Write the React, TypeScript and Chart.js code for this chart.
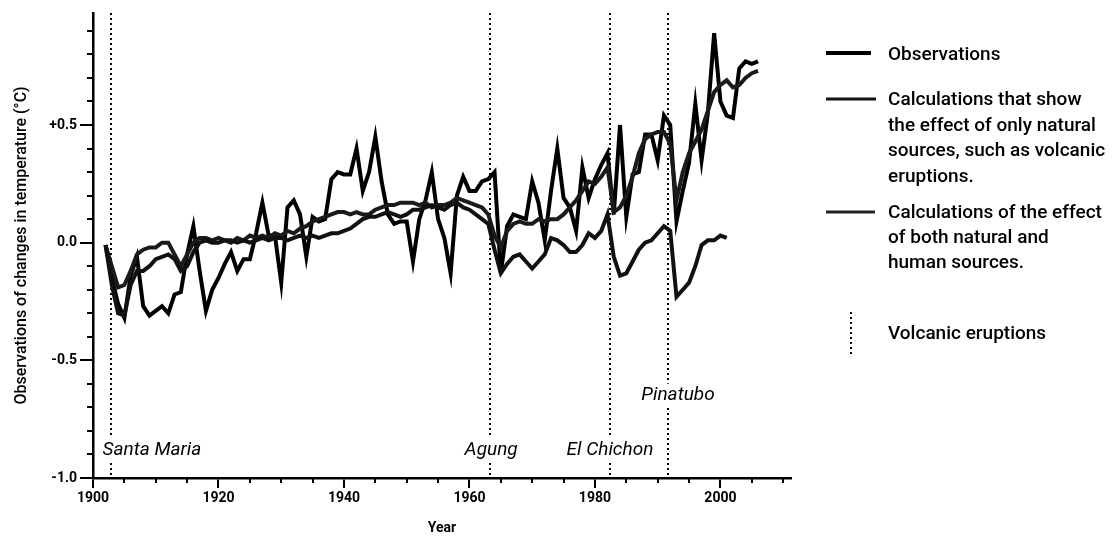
import React, { useEffect, useRef } from 'react';
import { Chart, registerables } from 'chart.js';

Chart.register(...registerables);

// ---- Data ----
const OBS_START_YEAR = 1902;
const observations = [
  -0.01, -0.15, -0.26, -0.32, -0.14, -0.06, -0.27, -0.31, -0.29, -0.27, // 1902-1911
  -0.30, -0.22, -0.21, -0.05, 0.07, -0.12, -0.29, -0.20, -0.15, -0.09, // 1912-1921
  -0.04, -0.12, -0.07, -0.07, 0.04, 0.17, 0.03, 0.03, -0.17, 0.15, // 1922-1931
  0.18, 0.12, -0.06, 0.11, 0.09, 0.10, 0.27, 0.30, 0.29, 0.29, // 1932-1941
  0.40, 0.22, 0.30, 0.45, 0.26, 0.12, 0.08, 0.09, 0.09, -0.08, // 1942-1951
  0.10, 0.18, 0.30, 0.10, 0.02, -0.13, 0.20, 0.28, 0.22, 0.22, // 1952-1961
  0.26, 0.27, 0.30, -0.13, 0.07, 0.12, 0.11, 0.10, 0.26, 0.17, // 1962-1971
  0.01, 0.22, 0.40, 0.19, 0.15, 0.05, 0.32, 0.19, 0.27, 0.33, // 1972-1981
  0.38, 0.12, 0.50, 0.11, 0.29, 0.30, 0.46, 0.46, 0.35, 0.54, // 1982-1991
  0.50, 0.09, 0.22, 0.34, 0.59, 0.35, 0.55, 0.89, 0.60, 0.54, // 1992-2001
  0.53, 0.74, 0.77, 0.76, 0.77, // 2002-2006
];

const NATURAL_START_YEAR = 1902;
const naturalOnly = [
  -0.01, -0.18, -0.30, -0.31, -0.18, -0.12, -0.12, -0.10, -0.07, -0.06, // 1902-1911
  -0.05, -0.07, -0.12, -0.10, -0.04, 0.00, 0.01, 0.00, 0.00, 0.01, // 1912-1921
  0.01, 0.00, 0.01, 0.00, 0.01, 0.02, 0.01, 0.02, 0.02, 0.01, // 1922-1931
  0.02, 0.03, 0.02, 0.03, 0.02, 0.03, 0.04, 0.04, 0.05, 0.06, // 1932-1941
  0.08, 0.10, 0.11, 0.11, 0.12, 0.13, 0.12, 0.11, 0.12, 0.14, // 1942-1951
  0.14, 0.15, 0.16, 0.15, 0.14, 0.16, 0.17, 0.15, 0.14, 0.12, // 1952-1961
  0.10, 0.08, -0.03, -0.13, -0.09, -0.06, -0.05, -0.08, -0.11, -0.08, // 1962-1971
  -0.05, 0.02, 0.01, -0.01, -0.04, -0.04, -0.01, 0.04, 0.02, 0.05, // 1972-1981
  0.12, -0.06, -0.14, -0.13, -0.08, -0.03, 0.00, 0.01, 0.04, 0.07, // 1982-1991
  0.05, -0.23, -0.20, -0.17, -0.10, -0.01, 0.01, 0.01, 0.03, 0.02, // 1992-2001
];

const BOTH_START_YEAR = 1902;
const naturalAndHuman = [
  -0.01, -0.10, -0.19, -0.18, -0.12, -0.05, -0.03, -0.02, -0.02, 0.00, // 1902-1911
  0.00, -0.05, -0.10, -0.05, 0.00, 0.02, 0.02, 0.01, 0.02, 0.01, // 1912-1921
  0.00, 0.02, 0.01, 0.03, 0.02, 0.03, 0.02, 0.04, 0.03, 0.05, // 1922-1931
  0.04, 0.06, 0.07, 0.09, 0.10, 0.11, 0.12, 0.13, 0.13, 0.12, // 1932-1941
  0.13, 0.12, 0.12, 0.14, 0.15, 0.16, 0.16, 0.17, 0.17, 0.17, // 1942-1951
  0.16, 0.17, 0.15, 0.16, 0.16, 0.17, 0.19, 0.18, 0.17, 0.16, // 1952-1961
  0.15, 0.12, 0.03, -0.02, 0.05, 0.08, 0.09, 0.08, 0.08, 0.10, // 1962-1971
  0.09, 0.10, 0.10, 0.12, 0.15, 0.18, 0.22, 0.26, 0.25, 0.28, // 1972-1981
  0.32, 0.13, 0.15, 0.20, 0.28, 0.38, 0.44, 0.46, 0.47, 0.47, // 1982-1991
  0.42, 0.18, 0.30, 0.38, 0.43, 0.48, 0.56, 0.64, 0.67, 0.69, // 1992-2001
  0.66, 0.67, 0.70, 0.72, 0.73, // 2002-2006
];

const xTickYears = [1900, 1920, 1940, 1960, 1980, 2000];
const xMinorTickYears = [1905, 1910, 1915, 1925, 1930, 1935, 1945, 1950, 1955, 1965, 1970, 1975, 1985, 1990, 1995, 2005, 2010];
const yTickValues = [-1.0, -0.5, 0.0, 0.5];
const yMinorTickValues = [-0.9, -0.8, -0.7, -0.6, -0.4, -0.3, -0.2, -0.1, 0.1, 0.2, 0.3, 0.4, 0.6, 0.7, 0.8, 0.9];

const eruptionNames = ['Santa Maria', 'Agung', 'El Chichon', 'Pinatubo'];
const eruptionYears = [1902.8, 1963.3, 1982.4, 1991.7];

const legendObs = ['Observations'];
const legendNatural = ['Calculations that show', 'the effect of only natural', 'sources, such as volcanic', 'eruptions.'];
const legendBoth = ['Calculations of the effect', 'of both natural and', 'human sources.'];
const legendVolcanic = ['Volcanic eruptions'];

const yAxisTitle = 'Observations of changes in temperature (°C)';
const xAxisTitle = 'Year';

// ---- helpers ----
const toPoints = (start: number, values: number[]) => values.map((v, i) => ({ x: start + i, y: v }));

const FONT = 'Roboto, "DejaVu Sans", sans-serif';

// label placement (styling, not data)
const eruptionLabelPlacement = [
  { align: 'left', dx: -8, yValue: -0.88 },
  { align: 'center', dx: 1, yValue: -0.88 },
  { align: 'center', dx: 0, yValue: -0.88 },
  { align: 'left', dx: -27, yValue: -0.65 },
];

const overlayPlugin = {
  id: 'overlay',
  beforeDatasetsDraw(chart: any) {
    const { ctx, chartArea, scales } = chart;
    const x = scales.x;
    ctx.save();
    ctx.strokeStyle = '#000';
    ctx.lineWidth = 2;
    ctx.setLineDash([2, 3]);
    eruptionYears.forEach((yr) => {
      const px = Math.round(x.getPixelForValue(yr));
      ctx.beginPath();
      ctx.moveTo(px, chartArea.top);
      ctx.lineTo(px, chartArea.bottom);
      ctx.stroke();
    });
    ctx.restore();
  },
  afterDatasetsDraw(chart: any) {
    const { ctx, scales } = chart;
    const x = scales.x;
    const y = scales.y;
    ctx.save();
    ctx.font = `italic 400 19px ${FONT}`;
    ctx.textBaseline = 'middle';
    eruptionNames.forEach((name, i) => {
      const p = eruptionLabelPlacement[i];
      const px = x.getPixelForValue(eruptionYears[i]) + p.dx;
      const py = y.getPixelForValue(p.yValue);
      const w = ctx.measureText(name).width;
      const left = p.align === 'left' ? px : px - w / 2;
      ctx.fillStyle = '#fff';
      ctx.fillRect(left - 3, py - 12, w + 6, 24);
      ctx.fillStyle = '#000';
      ctx.textAlign = 'left';
      ctx.fillText(name, left, py);
    });
    ctx.restore();
  },
  afterDraw(chart: any) {
    const { ctx, chartArea, scales } = chart;
    const x = scales.x;
    const y = scales.y;
    ctx.save();
    // minor ticks
    ctx.strokeStyle = '#000';
    ctx.lineWidth = 2;
    xMinorTickYears.forEach((yr) => {
      const px = Math.round(x.getPixelForValue(yr));
      ctx.beginPath();
      ctx.moveTo(px, chartArea.bottom);
      ctx.lineTo(px, chartArea.bottom + 5);
      ctx.stroke();
    });
    yMinorTickValues.forEach((v) => {
      const py = Math.round(y.getPixelForValue(v));
      ctx.beginPath();
      ctx.moveTo(chartArea.left, py);
      ctx.lineTo(chartArea.left - 6, py);
      ctx.stroke();
    });

    // legend
    const sx0 = 826;
    const tx = 888;
    ctx.fillStyle = '#000';
    ctx.font = `500 19px ${FONT}`;
    ctx.textAlign = 'left';
    ctx.textBaseline = 'alphabetic';

    ctx.lineWidth = 4;
    ctx.beginPath(); ctx.moveTo(sx0, 53); ctx.lineTo(sx0 + 45, 53); ctx.stroke();
    legendObs.forEach((t, i) => ctx.fillText(t, tx, 60 + i * 26));

    ctx.lineWidth = 3;
    ctx.strokeStyle = '#111';
    ctx.beginPath(); ctx.moveTo(sx0, 99); ctx.lineTo(sx0 + 50, 99); ctx.stroke();
    legendNatural.forEach((t, i) => ctx.fillText(t, tx, 105 + i * 25.6));

    ctx.strokeStyle = '#222';
    ctx.beginPath(); ctx.moveTo(sx0, 212); ctx.lineTo(sx0 + 49, 212); ctx.stroke();
    legendBoth.forEach((t, i) => ctx.fillText(t, tx, 218 + i * 25));

    ctx.strokeStyle = '#000';
    ctx.lineWidth = 2;
    ctx.setLineDash([2, 3]);
    ctx.beginPath(); ctx.moveTo(851, 312); ctx.lineTo(851, 354); ctx.stroke();
    ctx.setLineDash([]);
    legendVolcanic.forEach((t, i) => ctx.fillText(t, tx, 339 + i * 25));
    ctx.restore();
  },
};

export default function App() {
  const canvasRef = useRef<HTMLCanvasElement | null>(null);

  useEffect(() => {
    if (!canvasRef.current) return;
    const chart = new Chart(canvasRef.current, {
      type: 'line',
      data: {
        datasets: [
          {
            label: 'Calculations that show the effect of only natural sources',
            data: toPoints(NATURAL_START_YEAR, naturalOnly),
            borderColor: '#111',
            borderWidth: 4,
            pointRadius: 0,
            tension: 0,
            fill: false,
          },
          {
            label: 'Calculations of the effect of both natural and human sources',
            data: toPoints(BOTH_START_YEAR, naturalAndHuman),
            borderColor: '#1a1a1a',
            borderWidth: 4,
            pointRadius: 0,
            tension: 0,
            fill: false,
          },
          {
            label: 'Observations',
            data: toPoints(OBS_START_YEAR, observations),
            borderColor: '#000',
            borderWidth: 4,
            pointRadius: 0,
            tension: 0,
            fill: false,
          },
        ],
      },
      options: {
        responsive: false,
        animation: false,
        devicePixelRatio: 1,
        layout: { padding: { left: 0, top: 13, right: 321, bottom: 0 } },
        plugins: { legend: { display: false }, tooltip: { enabled: false }, title: { display: false } },
        scales: {
          x: {
            type: 'linear',
            min: 1900,
            max: 2011.25,
            afterBuildTicks: (scale: any) => {
              scale.ticks = xTickYears.map((v) => ({ value: v }));
            },
            afterFit: (scale: any) => {
              scale.height = 63;
            },
            ticks: {
              autoSkip: false,
              maxRotation: 0,
              padding: 2,
              color: '#000',
              font: { family: FONT, size: 14, weight: 'bold' },
              callback: (v: any) => String(v),
            },
            grid: { display: true, drawOnChartArea: false, drawTicks: true, tickLength: 10, color: '#000', lineWidth: 2 },
            border: { display: true, color: '#000', width: 2.5 },
            title: {
              display: true,
              text: xAxisTitle,
              color: '#000',
              font: { family: FONT, size: 14, weight: 'bold' },
              padding: { top: 0, bottom: 4 },
            },
          },
          y: {
            type: 'linear',
            min: -1.0,
            max: 0.976,
            afterBuildTicks: (scale: any) => {
              scale.ticks = yTickValues.map((v) => ({ value: v }));
            },
            afterFit: (scale: any) => {
              scale.width = 93;
            },
            ticks: {
              autoSkip: false,
              padding: 3,
              color: '#000',
              font: { family: FONT, size: 14, weight: 'bold' },
              callback: (v: any) => (v > 0 ? '+' + Number(v).toFixed(1) : Number(v).toFixed(1)),
            },
            grid: { display: true, drawOnChartArea: false, drawTicks: true, tickLength: 13, color: '#000', lineWidth: 2 },
            border: { display: true, color: '#000', width: 2.5 },
            title: {
              display: true,
              text: yAxisTitle,
              color: '#000',
              font: { family: FONT, size: 16, weight: '500' },
              padding: { top: 12, bottom: 0 },
            },
          },
        },
      },
      plugins: [overlayPlugin],
    } as any);
    return () => chart.destroy();
  }, []);

  return (
    <div style={{ position: 'fixed', left: 0, top: 0, width: 1112, height: 541, background: '#fff' }}>
      <canvas ref={canvasRef} width={1112} height={541} style={{ display: 'block' }} />
    </div>
  );
}
